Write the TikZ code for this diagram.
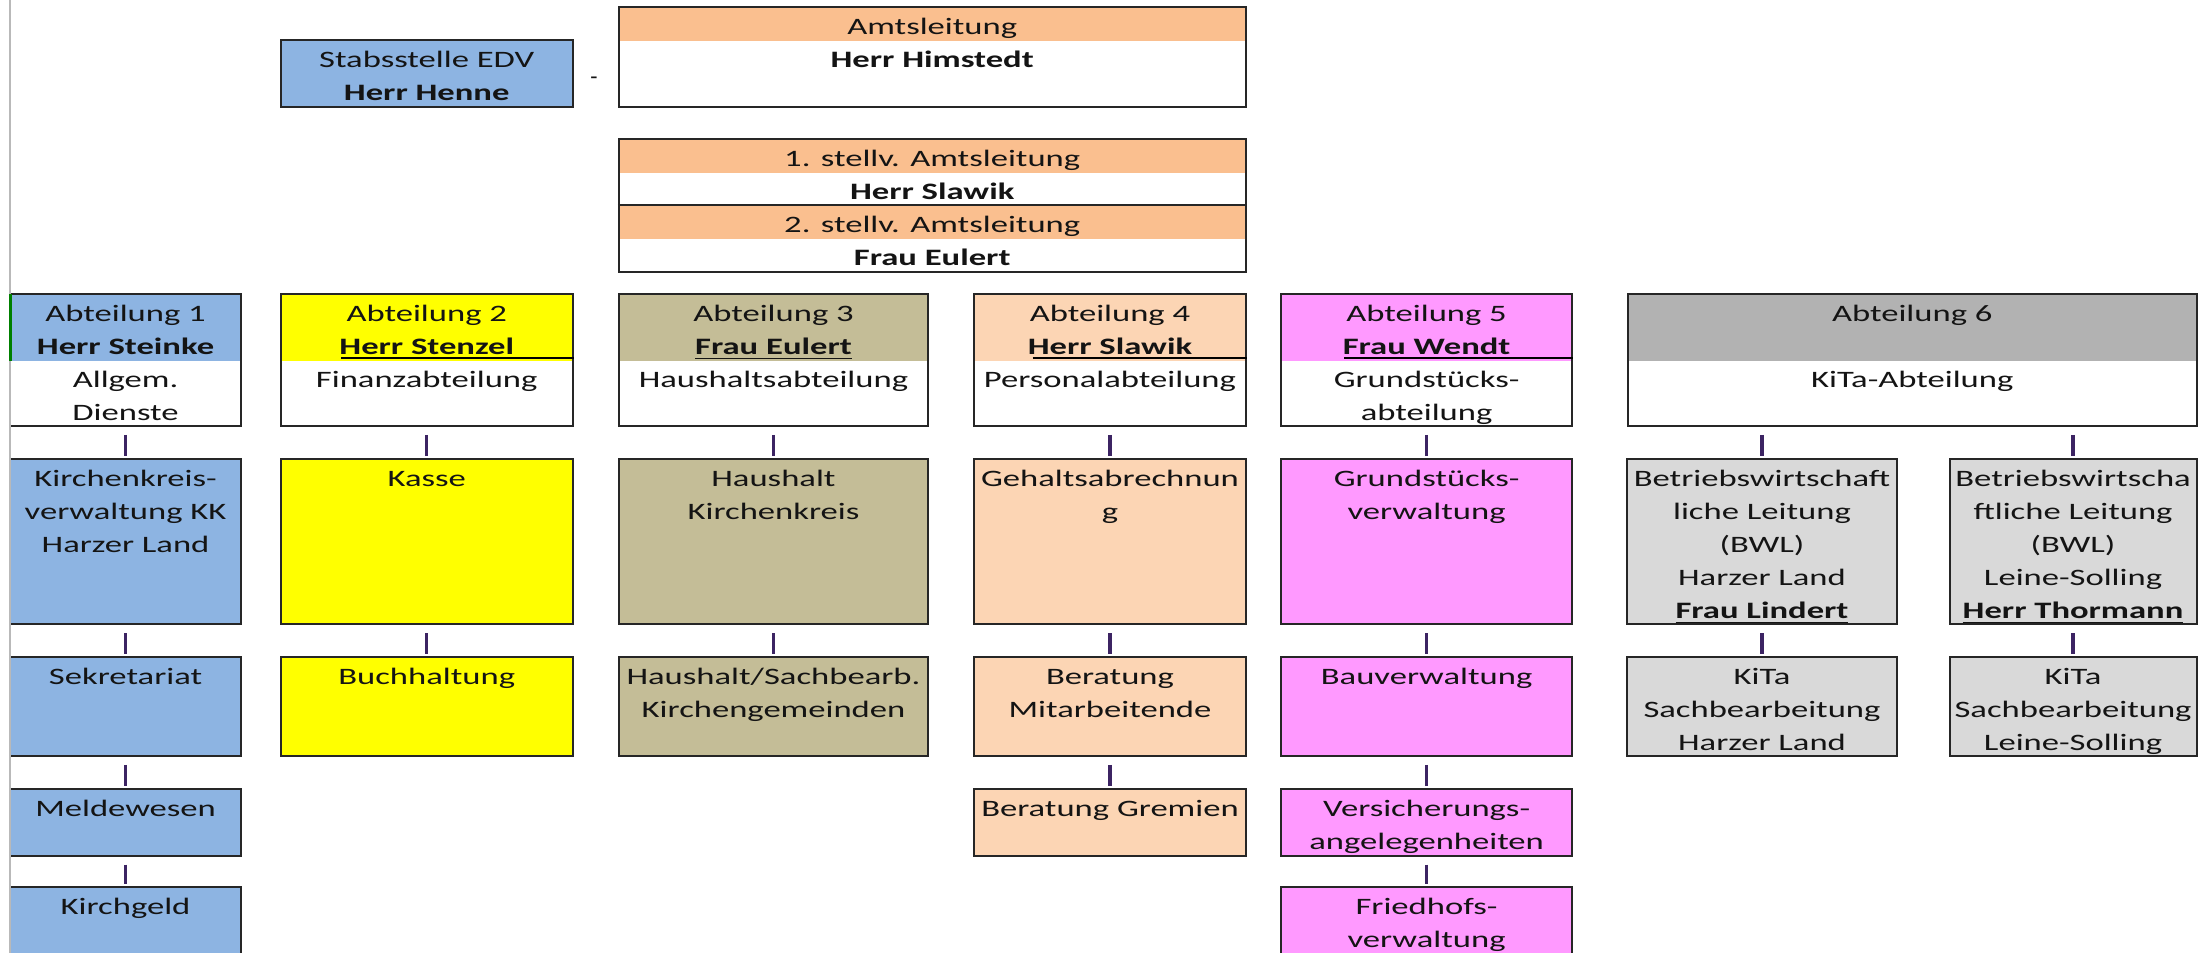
\documentclass[tikz,border=0pt]{standalone}
\usepackage{fontspec}
\setmainfont{Carlito}
\usepackage{graphicx}
\usepackage{tikz}
\usetikzlibrary{calc}
\usetikzlibrary{fit}

\definecolor{blau}{HTML}{8DB4E2}
\definecolor{amtorange}{HTML}{FABF8F}
\definecolor{gelb}{HTML}{FFFF00}
\definecolor{khaki}{HTML}{C4BD97}
\definecolor{pfirsich}{HTML}{FCD5B4}
\definecolor{rosa}{HTML}{FF99FF}
\definecolor{grau}{HTML}{B2B2B2}
\definecolor{hellgrau}{HTML}{D9D9D9}
\definecolor{stubfarbe}{HTML}{3C2463}

\newcommand{\zeilen}[1]{\scalebox{1.47}[1]{\begin{tabular}{@{}c@{}}#1\end{tabular}}}

\begin{document}
\begin{tikzpicture}[x=0.02cm,y=-0.02cm,
    kasten/.style={draw=black!85,line width=0.8pt,inner sep=0pt},
    txt/.style={anchor=north,inner sep=0pt,yshift=-2pt,text=black!92,font=\fontsize{9.5pt}{13.26pt}\selectfont},
    stub/.style={draw=stubfarbe,line width=1.3pt}]
    \fill[white] (0,0) rectangle (1568,675.5);
    \useasboundingbox (0,0) rectangle (1568,675.5);
    \clip (0,0) rectangle (1568,675.5);

    % Leitung
    \node[kasten,fill=blau,fit={(199,28.5) (406,75.5)}] (edv) {};
    \node[txt] (edv-t) at (edv.north) {\zeilen{Stabsstelle EDV\\ \textbf{Herr Henne}}};
    \node[txt,anchor=center,yshift=0pt] (strich) at (421,54) {-};
    \fill[amtorange] (438.6,5.2) rectangle (883,29);
    \node[kasten,fit={(438.6,5.2) (883,75.6)}] (amt) {};
    \node[txt] (amt-t) at (amt.north) {\zeilen{Amtsleitung\\ \textbf{Herr Himstedt}}};
    \fill[amtorange] (438.6,98.8) rectangle (883,122.9);
    \fill[amtorange] (438.6,145.3) rectangle (883,169.7);
    \node[kasten,fit={(438.6,98.8) (883,192.6)}] (stv) {};
    \draw[black!85,line width=0.8pt] (stv.west |- 0,145.3) -- (stv.east |- 0,145.3);
    \node[txt] (stv-t) at (stv.north) {\zeilen{1. stellv. Amtsleitung\\ \textbf{Herr Slawik}\\ 2. stellv. Amtsleitung\\ \textbf{Frau Eulert}}};

    % Abteilungen
    \fill[blau] (7,208.5) rectangle (171,256);
    \node[kasten,fit={(7,208.5) (171,302)}] (abt1) {};
    \node[txt] (abt1-t) at (abt1.north) {\zeilen{Abteilung 1\\ \textbf{Herr Steinke}\\ Allgem.\\ Dienste}};
    \fill[gelb] (199,208.5) rectangle (406,256);
    \node[kasten,fit={(199,208.5) (406,302)}] (abt2) {};
    \node[txt] (abt2-t) at (abt2.north) {\zeilen{Abteilung 2\\ \textbf{Herr Stenzel}\\ Finanzabteilung}};
    \draw[line width=0.7pt] (242,254) -- (abt2.east |- 0,254);
    \fill[khaki] (438.6,208.5) rectangle (658,256);
    \node[kasten,fit={(438.6,208.5) (658,302)}] (abt3) {};
    \node[txt] (abt3-t) at (abt3.north) {\zeilen{Abteilung 3\\ \underline{\textbf{Frau Eulert}}\\ Haushaltsabteilung}};
    \fill[pfirsich] (690.6,208.5) rectangle (883,256);
    \node[kasten,fit={(690.6,208.5) (883,302)}] (abt4) {};
    \node[txt] (abt4-t) at (abt4.north) {\zeilen{Abteilung 4\\ \textbf{Herr Slawik}\\ Personalabteilung}};
    \draw[line width=0.7pt] (732,254) -- (abt4.east |- 0,254);
    \fill[rosa] (908,208.5) rectangle (1114.5,256);
    \node[kasten,fit={(908,208.5) (1114.5,302)}] (abt5) {};
    \node[txt] (abt5-t) at (abt5.north) {\zeilen{Abteilung 5\\ \textbf{Frau Wendt}\\ Grundstücks-\\ abteilung}};
    \draw[line width=0.7pt] (953,254) -- (abt5.east |- 0,254);
    \fill[grau] (1154,208.5) rectangle (1557,256);
    \node[kasten,fit={(1154,208.5) (1557,302)}] (abt6) {};
    \node[txt] (abt6-t) at (abt6.north) {\zeilen{Abteilung 6\\ \\ KiTa-Abteilung}};

    % zweite Ebene
    \node[kasten,fill=blau,fit={(7,325.7) (171,442.5)}] (kkv) {};
    \node[txt] (kkv-t) at (kkv.north) {\zeilen{Kirchenkreis-\\ verwaltung KK\\ Harzer Land}};
    \node[kasten,fill=gelb,fit={(199,325.7) (406,442.5)}] (kasse) {};
    \node[txt] (kasse-t) at (kasse.north) {\zeilen{Kasse}};
    \node[kasten,fill=khaki,fit={(438.6,325.7) (658,442.5)}] (hhkk) {};
    \node[txt] (hhkk-t) at (hhkk.north) {\zeilen{Haushalt\\ Kirchenkreis}};
    \node[kasten,fill=pfirsich,fit={(690.6,325.7) (883,442.5)}] (gehalt) {};
    \node[txt] (gehalt-t) at (gehalt.north) {\zeilen{Gehaltsabrechnun\\ g}};
    \node[kasten,fill=rosa,fit={(908,325.7) (1114.5,442.5)}] (gsv) {};
    \node[txt] (gsv-t) at (gsv.north) {\zeilen{Grundstücks-\\ verwaltung}};
    \node[kasten,fill=hellgrau,fit={(1153.3,325.7) (1344.7,442.5)}] (bwlhl) {};
    \node[txt] (bwlhl-t) at (bwlhl.north) {\zeilen{Betriebswirtschaft\\ liche Leitung\\ (BWL)\\ Harzer Land\\ \underline{\textbf{Frau Lindert}}}};
    \node[kasten,fill=hellgrau,fit={(1382,325.7) (1557,442.5)}] (bwlls) {};
    \node[txt] (bwlls-t) at (bwlls.north) {\zeilen{Betriebswirtscha\\ ftliche Leitung\\ (BWL)\\ Leine-Solling\\ \underline{\textbf{Herr Thormann}}}};

    % dritte Ebene
    \node[kasten,fill=blau,fit={(7,466) (171,536)}] (sekr) {};
    \node[txt] (sekr-t) at (sekr.north) {\zeilen{Sekretariat}};
    \node[kasten,fill=gelb,fit={(199,466) (406,536)}] (buch) {};
    \node[txt] (buch-t) at (buch.north) {\zeilen{Buchhaltung}};
    \node[kasten,fill=khaki,fit={(438.6,466) (658,536)}] (hhkg) {};
    \node[txt] (hhkg-t) at (hhkg.north) {\zeilen{Haushalt/Sachbearb.\\ Kirchengemeinden}};
    \node[kasten,fill=pfirsich,fit={(690.6,466) (883,536)}] (berma) {};
    \node[txt] (berma-t) at (berma.north) {\zeilen{Beratung\\ Mitarbeitende}};
    \node[kasten,fill=rosa,fit={(908,466) (1114.5,536)}] (bau) {};
    \node[txt] (bau-t) at (bau.north) {\zeilen{Bauverwaltung}};
    \node[kasten,fill=hellgrau,fit={(1153.3,466) (1344.7,536)}] (kitahl) {};
    \node[txt] (kitahl-t) at (kitahl.north) {\zeilen{KiTa\\ Sachbearbeitung\\ Harzer Land}};
    \node[kasten,fill=hellgrau,fit={(1382,466) (1557,536)}] (kitals) {};
    \node[txt] (kitals-t) at (kitals.north) {\zeilen{KiTa\\ Sachbearbeitung\\ Leine-Solling}};

    % vierte und fuenfte Ebene
    \node[kasten,fill=blau,fit={(7,559.6) (171,606.7)}] (melde) {};
    \node[txt] (melde-t) at (melde.north) {\zeilen{Meldewesen}};
    \node[kasten,fill=pfirsich,fit={(690.6,559.6) (883,606.7)}] (bergr) {};
    \node[txt] (bergr-t) at (bergr.north) {\zeilen{Beratung Gremien}};
    \node[kasten,fill=rosa,fit={(908,559.6) (1114.5,606.7)}] (vers) {};
    \node[txt] (vers-t) at (vers.north) {\zeilen{Versicherungs-\\ angelegenheiten}};
    \node[kasten,fill=blau,fit={(7,629) (171,720)}] (kgeld) {};
    \node[txt] (kgeld-t) at (kgeld.north) {\zeilen{Kirchgeld}};
    \node[kasten,fill=rosa,fit={(908,629) (1114.5,720)}] (friedhof) {};
    \node[txt] (friedhof-t) at (friedhof.north) {\zeilen{Friedhofs-\\ verwaltung}};

    % Verbindungen
    \draw[stub] ($(abt1.south)+(0,5.5)$) -- ($(kkv.north)+(0,-2)$);
    \draw[stub] ($(kkv.south)+(0,5.5)$) -- ($(sekr.north)+(0,-2)$);
    \draw[stub] ($(sekr.south)+(0,5.5)$) -- ($(melde.north)+(0,-2)$);
    \draw[stub] ($(melde.south)+(0,5.5)$) -- ($(kgeld.north)+(0,-2)$);
    \draw[stub] ($(abt2.south)+(0,5.5)$) -- ($(kasse.north)+(0,-2)$);
    \draw[stub] ($(kasse.south)+(0,5.5)$) -- ($(buch.north)+(0,-2)$);
    \draw[stub] ($(abt3.south)+(0,5.5)$) -- ($(hhkk.north)+(0,-2)$);
    \draw[stub] ($(hhkk.south)+(0,5.5)$) -- ($(hhkg.north)+(0,-2)$);
    \draw[stub] ($(abt4.south)+(0,5.5)$) -- ($(gehalt.north)+(0,-2)$);
    \draw[stub] ($(gehalt.south)+(0,5.5)$) -- ($(berma.north)+(0,-2)$);
    \draw[stub] ($(berma.south)+(0,5.5)$) -- ($(bergr.north)+(0,-2)$);
    \draw[stub] ($(abt5.south)+(0,5.5)$) -- ($(gsv.north)+(0,-2)$);
    \draw[stub] ($(gsv.south)+(0,5.5)$) -- ($(bau.north)+(0,-2)$);
    \draw[stub] ($(bau.south)+(0,5.5)$) -- ($(vers.north)+(0,-2)$);
    \draw[stub] ($(vers.south)+(0,5.5)$) -- ($(friedhof.north)+(0,-2)$);
    \draw[stub] ($(abt6.south -| bwlhl.north)+(0,5.5)$) -- ($(bwlhl.north)+(0,-2)$);
    \draw[stub] ($(abt6.south -| bwlls.north)+(0,5.5)$) -- ($(bwlls.north)+(0,-2)$);
    \draw[stub] ($(bwlhl.south)+(0,5.5)$) -- ($(kitahl.north)+(0,-2)$);
    \draw[stub] ($(bwlls.south)+(0,5.5)$) -- ($(kitals.north)+(0,-2)$);

    % Tabellenrand
    \draw[gray!55,line width=0.7pt] (7,0) -- (7,675.5);
    \draw[green!50!black,line width=1pt] (7.5,208.5) -- (7.5,256);
\end{tikzpicture}
\end{document}
